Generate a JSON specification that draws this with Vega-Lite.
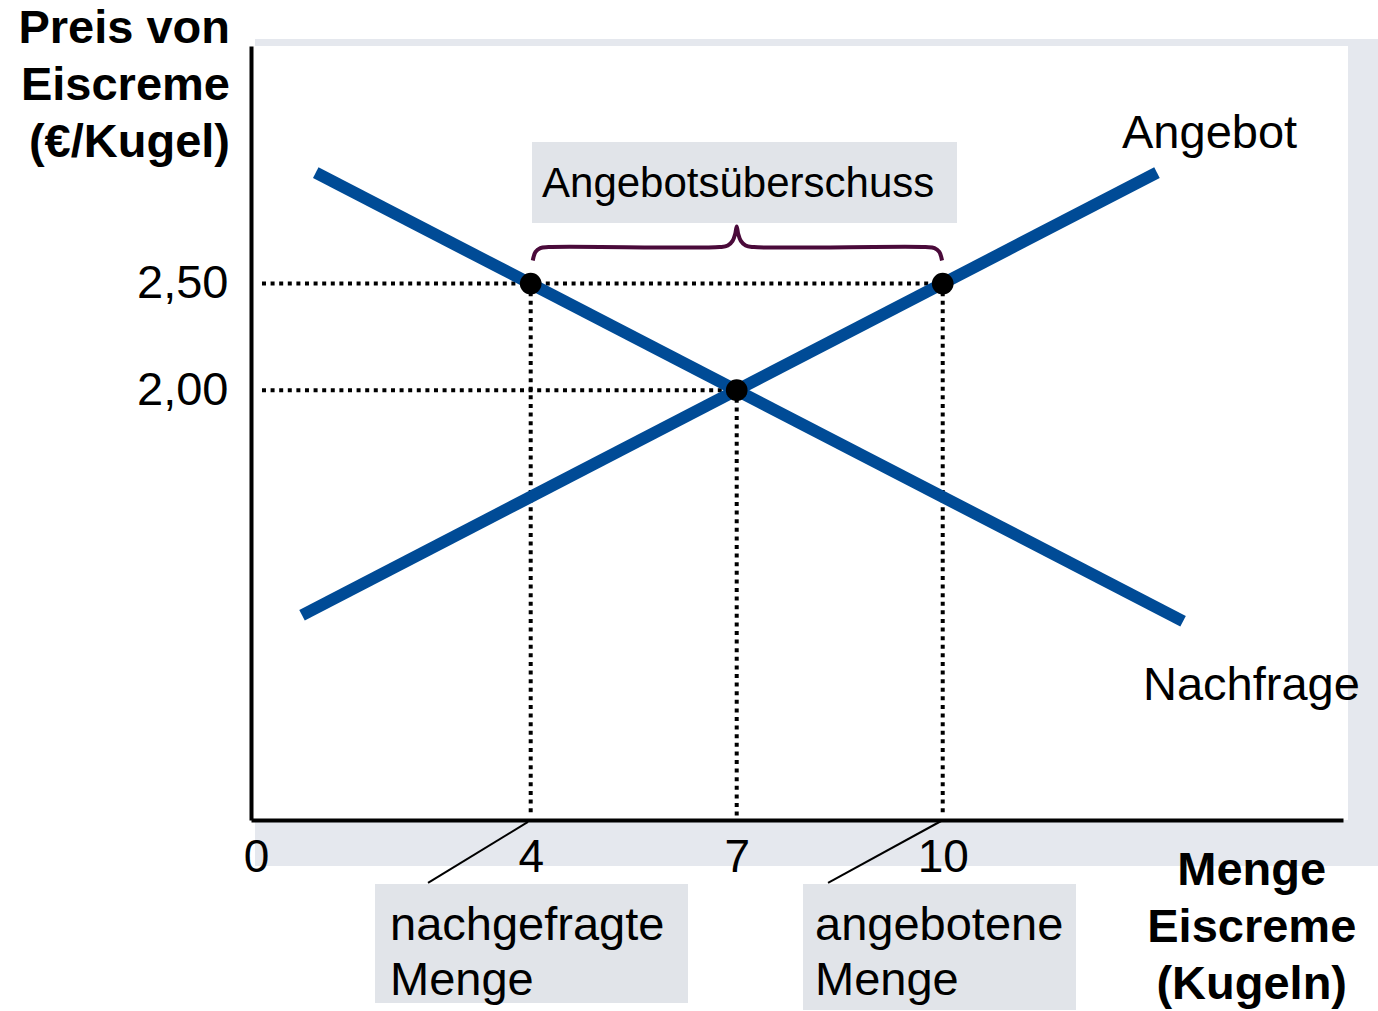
{
  "$schema": "https://vega.github.io/schema/vega-lite/v6.json",
  "width": 1092,
  "height": 774,
  "autosize": {"type": "none"},
  "padding": {"left": 251, "top": 46, "right": 35, "bottom": 191},
  "background": "white",
  "config": {"view": {"stroke": null}, "font": "Liberation Sans"},
  "encoding": {
    "x": {
      "field": "x", "type": "quantitative",
      "scale": {"domain": [-0.073, 15.829], "nice": false, "zero": false},
      "axis": {"values": [0, 4, 7, 10], "title": null, "ticks": false, "tickSize": 0, "grid": false,
        "domainColor": "black", "domainWidth": 4, "labelFontSize": 46, "labelPadding": 15,
        "labelColor": "black", "labelFont": "Liberation Sans", "zindex": 1, "labelFlush": false, "labelOverlap": false}
    },
    "y": {
      "field": "y", "type": "quantitative",
      "scale": {"domain": [-0.015, 3.6137], "nice": false, "zero": false},
      "axis": {"values": [2, 2.5], "labelExpr": "replace(format(datum.value, '.2f'), '.', ',')", "title": null,
        "ticks": false, "tickSize": 0, "grid": false, "domainColor": "black", "domainWidth": 4,
        "labelFontSize": 47, "labelPadding": 23, "labelColor": "black", "labelFont": "Liberation Sans",
        "zindex": 1, "labelFlush": false, "labelOverlap": false}
    }
  },
  "layer": [
    {
      "data": {"values": [{"x": -0.015, "x2": 16.339, "y": 3.647, "y2": -0.231}]},
      "mark": {"type": "rect", "color": "#E5E8EE"},
      "encoding": {"x2": {"field": "x2"}, "y2": {"field": "y2"}}
    },
    {
      "data": {"values": [{"x": -0.058, "x2": 15.902, "y": 3.614, "y2": -0.015}]},
      "mark": {"type": "rect", "color": "white"},
      "encoding": {"x2": {"field": "x2"}, "y2": {"field": "y2"}}
    },
    {
      "data": {"values": [
        {"x": 4.019, "x2": 10.208, "y": 3.164, "y2": 2.784},
        {"x": 1.733, "x2": 6.291, "y": -0.315, "y2": -0.873},
        {"x": 7.965, "x2": 11.941, "y": -0.315, "y2": -0.906}
      ]},
      "mark": {"type": "rect", "color": "#E1E4E9"},
      "encoding": {"x2": {"field": "x2"}, "y2": {"field": "y2"}}
    },
    {
      "data": {"values": [
        {"x": 0.087, "x2": 10, "y": 2.5, "y2": 2.5},
        {"x": 0.087, "x2": 7, "y": 2.0, "y2": 2.0},
        {"x": 4, "x2": 4, "y": 2.5, "y2": 0},
        {"x": 7, "x2": 7, "y": 2.0, "y2": 0},
        {"x": 10, "x2": 10, "y": 2.5, "y2": 0}
      ]},
      "mark": {"type": "rule", "color": "black", "strokeWidth": 4, "strokeDash": [4, 4.6]},
      "encoding": {"x2": {"field": "x2"}, "y2": {"field": "y2"}}
    },
    {
      "data": {"values": [
        {"curve": "Nachfrage", "x": 0.87, "y": 3.02},
        {"curve": "Nachfrage", "x": 13.5, "y": 0.917},
        {"curve": "Angebot", "x": 0.67, "y": 0.945},
        {"curve": "Angebot", "x": 13.12, "y": 3.02}
      ]},
      "mark": {"type": "line", "color": "#004B96", "strokeWidth": 12},
      "encoding": {"detail": {"field": "curve"}}
    },
    {
      "data": {"values": [
        {"x": 4.03, "y": 2.608}, {"x": 4.07, "y": 2.648}, {"x": 4.14, "y": 2.666}, {"x": 4.26, "y": 2.671},
        {"x": 6.75, "y": 2.671}, {"x": 6.87, "y": 2.678}, {"x": 6.94, "y": 2.7}, {"x": 6.98, "y": 2.735},
        {"x": 7.0, "y": 2.768},
        {"x": 7.02, "y": 2.735}, {"x": 7.06, "y": 2.7}, {"x": 7.13, "y": 2.678}, {"x": 7.25, "y": 2.671},
        {"x": 9.75, "y": 2.671}, {"x": 9.88, "y": 2.666}, {"x": 9.95, "y": 2.648}, {"x": 9.99, "y": 2.608}
      ]},
      "mark": {"type": "line", "color": "#4A0A3A", "strokeWidth": 4, "interpolate": "catmull-rom"},
      "encoding": {}
    },
    {
      "data": {"values": [{"x": 4, "y": 2.5}, {"x": 10, "y": 2.5}, {"x": 7, "y": 2.0}]},
      "mark": {"type": "point", "shape": "circle", "filled": true, "color": "black", "opacity": 1, "size": 470},
      "encoding": {}
    },
    {
      "data": {"values": [
        {"x": 3.961, "y": -0.024, "x2": 2.505, "y2": -0.31},
        {"x": 10.004, "y": -0.015, "x2": 8.33, "y2": -0.31}
      ]},
      "mark": {"type": "rule", "color": "black", "strokeWidth": 2},
      "encoding": {"x2": {"field": "x2"}, "y2": {"field": "y2"}}
    },
    {
      "data": {"values": [
        {"x": 12.611, "y": 3.135, "text": "Angebot"},
        {"x": 12.917, "y": 0.548, "text": "Nachfrage"},
        {"x": 1.951, "y": -0.578, "text": ["nachgefragte", "Menge"]},
        {"x": 8.14, "y": -0.578, "text": ["angebotene", "Menge"]}
      ]},
      "mark": {"type": "text", "align": "left", "baseline": "alphabetic", "fontSize": 47, "lineHeight": 55, "color": "black", "font": "Liberation Sans"},
      "encoding": {"text": {"field": "text"}}
    },
    {
      "data": {"values": [{"x": 4.165, "y": 2.906, "text": "Angebotsüberschuss"}]},
      "mark": {"type": "text", "align": "left", "baseline": "alphabetic", "fontSize": 42, "color": "black", "font": "Liberation Sans"},
      "encoding": {"text": {"field": "text"}}
    },
    {
      "data": {"values": [{"x": -0.379, "y": 3.628, "text": ["Preis von", "Eiscreme", "(€/Kugel)"]}]},
      "mark": {"type": "text", "align": "right", "baseline": "alphabetic", "fontSize": 47, "fontWeight": "bold", "lineHeight": 57, "color": "black", "font": "Liberation Sans"},
      "encoding": {"text": {"field": "text"}}
    },
    {
      "data": {"values": [{"x": 14.5, "y": -0.32, "text": ["Menge", "Eiscreme", "(Kugeln)"]}]},
      "mark": {"type": "text", "align": "center", "baseline": "alphabetic", "fontSize": 47, "fontWeight": "bold", "lineHeight": 57, "color": "black", "font": "Liberation Sans"},
      "encoding": {"text": {"field": "text"}}
    }
  ]
}
